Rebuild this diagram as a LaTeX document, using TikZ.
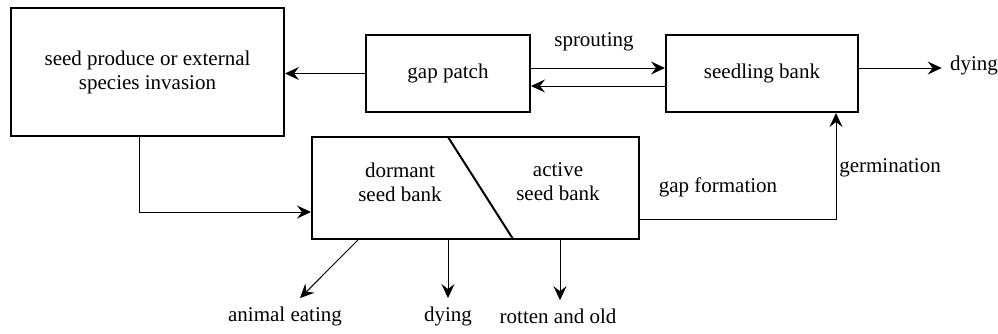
\documentclass[tikz,border=0pt]{standalone}
\usepackage{fontspec}
\setmainfont{LiberationSerif}[Extension=.ttf,UprightFont=*-Regular,BoldFont=*-Bold]
\usetikzlibrary{arrows.meta}
\begin{document}
\begin{tikzpicture}[x=0.5bp,y=-0.5bp,font=\fontsize{10.5bp}{12bp}\selectfont,
    box/.style={draw,line width=1bp,inner sep=0pt,align=center},
    arr/.style={line width=0.5bp,-{Stealth[length=7bp,width=6.5bp,inset=2.5bp]}},
    lbl/.style={inner sep=1bp,align=center}]
    \useasboundingbox (0,0) rectangle (998,333);

    % Boxes
    \node (seed) at (147.5,72) [box,minimum width=136.5bp,minimum height=64bp] {seed produce or external\\species invasion};
    \node (patch) at (448,73.5) [box,minimum width=82bp,minimum height=38.5bp] {gap patch};
    \node (seedling) at (762,73.5) [box,minimum width=96bp,minimum height=38.5bp] {seedling bank};
    \node (bank) at (475.5,188) [box,minimum width=163.5bp,minimum height=51bp] {};
    \coordinate (cutTop) at (448,137);
    \coordinate (cutBot) at (513,239);
    \draw[line width=1bp] (cutTop) -- (cutBot);
    \node (dormant) at (400,182) [lbl] {dormant\\seed bank};
    \node (active) at (558,182) [lbl] {active\\seed bank};

    % Outcomes
    \node (dieTop) at (974,65) [lbl] {dying};
    \node (eat) at (285,316) [lbl] {animal eating};
    \node (dieBot) at (448,316) [lbl] {dying};
    \node (rot) at (558,316) [lbl] {rotten and old};

    % Labels on connectors
    \node (sprout) at (594,42) [lbl] {sprouting};
    \node (gapform) at (718,187) [lbl] {gap formation};
    \node (germ) at (890,168) [lbl] {germination};

    % Connectors
    \draw[arr] (patch.west) -- (patch.west -| seed.east);
    \draw[arr] ([yshift=2.75bp]patch.east) -- ([yshift=2.75bp]patch.east -| seedling.west);
    \draw[arr] ([yshift=-6.25bp]seedling.west) -- ([yshift=-6.25bp]seedling.west -| patch.east);
    \draw[arr] ([yshift=2.75bp]seedling.east) -- ([yshift=2.75bp,xshift=-3bp]seedling.east -| dieTop.west);
    \draw[arr] ([xshift=-4.25bp]seed.south) |- ([yshift=-12bp]bank.west);
    \draw[arr] ([yshift=-15.5bp]bank.east) -| ([xshift=37bp]seedling.south);
    \draw[arr] (bank.south -| 358,0) -- ([xshift=7.5bp,yshift=3bp]eat.north);
    \draw[arr] (dieBot.north |- bank.south) -- ([yshift=3bp]dieBot.north);
    \draw[arr] ([xshift=1bp]rot.north |- bank.south) -- ([xshift=1bp,yshift=3bp]rot.north);
\end{tikzpicture}
\end{document}
